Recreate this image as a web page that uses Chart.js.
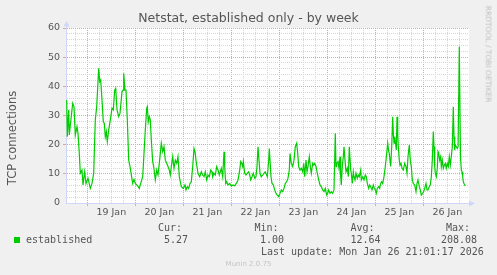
<!DOCTYPE html>
<html>
<head>
<meta charset="utf-8">
<script src="https://cdn.jsdelivr.net/npm/chart.js@4.4.1/dist/chart.umd.min.js"></script>
<style>
  html, body { margin: 0; padding: 0; background: #f0f0f0; }
  #wrap { position: relative; width: 497px; height: 275px; overflow: hidden; font-family: "DejaVu Sans", sans-serif; color: #555; }
  #wrap canvas { position: absolute; left: 0; top: 0; }
  .t { position: absolute; white-space: pre; line-height: 1; }
  .mono { font-family: "DejaVu Sans Mono", monospace; font-size: 10px; }
  .rot { transform: translate(-50%, -50%) rotate(-90deg); }
  .rot90 { transform: translate(-50%, -50%) rotate(90deg); }
</style>
</head>
<body>
<div id="wrap">
  <canvas id="chart" width="497" height="275"></canvas>
  <div class="t" style="left:0;width:497px;text-align:center;top:12px;font-size:12.5px;">Netstat, established only - by week</div>
  <div class="t rot" style="left:13px;top:138px;font-size:11.5px;">TCP connections</div>
  <div class="t rot90" style="left:488px;top:54px;font-size:7.5px;color:#c0c0c0;">RRDTOOL / TOBI OETIKER</div>

  <div style="position:absolute;left:14px;top:237px;width:6px;height:6px;background:#00cc00;"></div>
  <div class="t mono" style="left:26px;top:234.5px;">established</div>
  <div class="t mono" style="left:158px;top:223px;">Cur:</div>
  <div class="t mono" style="left:164px;top:234.5px;">5.27</div>
  <div class="t mono" style="left:254.5px;top:223px;">Min:</div>
  <div class="t mono" style="left:260px;top:234.5px;">1.00</div>
  <div class="t mono" style="left:350.5px;top:223px;">Avg:</div>
  <div class="t mono" style="left:350.5px;top:234.5px;">12.64</div>
  <div class="t mono" style="left:446px;top:223px;">Max:</div>
  <div class="t mono" style="left:441px;top:234.5px;">208.08</div>
  <div class="t mono" style="left:261px;top:247px;">Last update: Mon Jan 26 21:01:17 2026</div>
  <div class="t" style="left:0;width:497px;text-align:center;top:260.5px;font-size:7px;color:#c4c4c4;">Munin 2.0.75</div>
</div>
<script>
// x labels, one per day (drawn at noon)
const dayLabels = ['19 Jan', '20 Jan', '21 Jan', '22 Jan', '23 Jan', '24 Jan', '25 Jan', '26 Jan'];
const yLabels = [0, 10, 20, 30, 40, 50, 60];

// hours since Mon 19 Jan 00:00
const hours = [
  -10.3, -10, -9.3, -9, -7.3, -6.65, -6, -5.15, -4.65, -4, -3.5, -2.65, -2.15, -1.3, -0.65,
  0.35, 1.5, 2.35, 3.2, 4, 4.7, 5.7, 6.2, 6.7, 7.35, 8, 8.5, 9, 9.5, 10, 10.7, 11.5, 12.35,
  13, 13.7, 14.2, 14.85, 15.7, 16.35, 17.35, 17.85, 18.2, 18.85, 19.35, 20, 20.7,
  21.35, 22.7, 23.35, 24, 24.7, 25.5, 26, 26.7, 27.7, 28.35, 29, 29.7, 30, 30.5, 31, 31.5,
  32, 32.7, 33.2, 34, 34.7, 35.35, 36.35, 37, 37.7, 38.35, 39, 39.7, 40.35, 41, 41.5, 42,
  42.7, 43.35, 44, 44.7, 45.35, 46, 47, 48, 48.85, 49.35, 50, 50.7, 51.35, 52, 52.7, 53.35,
  53.85, 54.35,
  55.35, 56.2, 57, 57.7, 58.35, 59, 59.7, 60.35, 61, 61.7, 62.35, 62.7, 63.35, 64, 64.7,
  65.35, 66, 66.5, 67, 67.7, 68.35, 68.7, 69.2, 69.7, 70.35, 71.2, 72, 72.85, 73.7, 74.5,
  75.35, 76.2, 76.7, 77.2, 77.7, 78, 78.7, 79.35, 80, 80.7, 81.2, 81.7, 82.35, 83, 83.7,
  84.35, 84.85, 85.35, 85.85, 86.35, 87, 87.7, 88.35, 89,
  90, 90.7, 91, 91.35, 91.85, 92.35, 93, 93.7, 94.35, 95, 95.7, 96.35, 97, 97.7, 98.35, 99,
  99.7, 100.35, 101, 101.35, 102, 102.7, 103.35, 104, 104.7, 105.2, 105.7, 106.35, 107,
  107.7, 108.2, 108.7, 109.35, 109.85, 110.35, 111, 111.5, 112, 112.7, 113.2, 113.7, 114.35,
  115, 115.7, 116.35, 117, 117.7, 118.35, 119, 119.7, 120.2, 120.7, 121.35, 122, 122.7,
  123.35, 124, 124.35, 124.7, 125.35, 125.85, 126.35, 126.7, 127, 127.5, 128, 128.35, 128.85,
  129.35, 130, 130.5, 131, 131.7, 132, 132.5, 133, 133.35, 133.85, 134.35, 135, 135.5, 136,
  136.7, 137, 137.7, 138.35, 139, 139.5, 140, 140.7, 141.2, 141.7, 142.35, 143, 143.5, 144,
  144.5, 145, 145.7, 146.2, 146.7, 147.2, 147.7, 148.35, 149, 149.7, 150.2, 150.7, 151,
  151.35, 151.7, 152.2, 152.7, 153, 153.35, 153.7, 154, 154.5, 154.85, 155.2, 155.5, 156,
  156.35, 156.85,
  157.35, 158, 158.7, 159.35, 159.85, 160.35, 161, 161.5, 162, 162.5, 163, 163.7, 164.35,
  164.85, 165.35, 166, 166.5, 167, 167.7, 168.2, 168.7, 169.35, 169.85, 170.35, 171, 171.5,
  172, 172.5, 173, 173.35, 173.7, 174, 174.5, 175, 175.35, 175.7, 176.2, 176.7, 177, 177.5,
  178, 178.5, 179, 179.5, 180, 180.5, 181, 181.5, 182, 182.5, 183, 183.35, 183.7, 184, 184.5,
  185, 185.4, 186, 186.6, 187, 187.35, 187.7, 188, 188.35, 188.7, 189
];

const established = [
  35.3, 22.7, 31.9, 23.3, 34.2, 33.0, 23.3, 26.2, 23.9, 17.0, 10.2, 11.3, 6.2, 10.7, 6.7,
  8.5, 5.0, 6.7, 10.2, 28.5, 33.0, 46.2, 41.6, 42.2, 35.3, 27.9, 27.3, 22.7, 24.5, 21.0, 25.0, 28.5, 32.5,
  31.9, 38.7, 39.3, 31.9, 29.6, 30.7, 38.2, 38.7, 44.5, 38.7, 38.7, 28.5, 14.7,
  12.5, 6.7, 8.1, 6.7, 6.2, 5.6, 5.0, 6.7, 9.0, 17.0, 25.0, 32.5, 33.0, 27.9, 29.6, 28.5,
  21.6, 14.2, 12.5, 7.9, 11.3, 9.6, 15.9, 20.5, 17.6, 19.3, 14.7, 13.6, 12.5, 11.3, 9.6, 12.5,
  15.9, 11.9, 14.7, 13.6, 15.9, 9.0, 5.6, 5.0, 6.2, 4.5, 5.6, 5.0, 6.7, 7.3, 12.5, 18.7,
  17.6, 14.7,
  10.2, 9.0, 10.7, 9.6, 9.0, 10.7, 7.9, 9.6, 9.0, 11.3, 10.7, 9.0, 10.2, 9.6, 12.5,
  11.3, 9.6, 10.7, 11.9, 9.0, 17.6, 12.5, 6.7, 7.3, 6.2, 6.7, 5.8, 6.2, 5.9, 6.7,
  7.9, 11.3, 14.2, 13.6, 12.5, 14.2, 10.2, 9.6, 10.2, 10.7, 9.6, 7.9, 9.0, 10.2, 8.5,
  9.0, 12.5, 19.3, 14.7, 10.2, 9.0, 9.6, 10.2, 10.7,
  9.0, 14.7, 18.7, 14.7, 9.0, 6.7, 6.2, 4.5, 3.3, 2.7, 2.2, 3.3, 4.5, 3.9, 5.0, 6.7,
  7.3, 8.5, 11.3, 17.0, 13.6, 12.5, 14.7, 19.3, 20.5, 17.0, 12.5, 11.3, 11.9,
  10.7, 13.6, 9.0, 14.7, 10.7, 12.5, 15.9, 12.5, 10.2, 13.6, 13.0, 13.6, 12.5,
  10.2, 7.9, 6.2, 5.6, 4.5, 3.9, 5.0, 2.7, 3.3, 4.5, 3.3, 3.9, 3.3,
  4.5, 23.9, 12.5, 13.6, 14.2, 11.9, 15.9, 9.0, 6.2, 12.5, 15.9, 19.3, 14.7,
  10.7, 11.9, 9.0, 19.3, 11.3, 10.2, 6.7, 10.7, 9.0, 7.9, 10.2, 8.5, 9.6, 9.0,
  11.3, 7.9, 9.0, 7.9, 9.6, 9.0, 6.7, 5.0, 6.2, 5.6, 4.5, 6.2, 5.0, 4.5,
  3.3, 5.0, 5.6, 5.0, 6.7, 7.3, 6.7, 9.0, 12.5, 17.0, 20.5, 17.6, 17.0,
  14.7, 12.5, 19.3, 29.6, 23.9, 20.5, 22.7, 21.0, 18.2, 29.6, 23.9, 19.3, 14.7,
  13.0, 13.6,
  11.9, 11.3, 13.6, 12.5, 10.2, 15.9, 19.9, 14.7, 12.5, 7.9, 6.7, 6.2, 3.9,
  6.7, 7.9, 5.6, 4.5, 2.7, 3.3, 3.9, 5.0, 6.7, 4.5, 4.5, 5.6, 6.2,
  9.0, 14.7, 24.5, 19.3, 12.5, 10.2, 9.0, 11.9, 17.6, 17.0, 14.7, 15.9, 12.5, 14.7,
  11.9, 13.0, 13.6, 11.9, 13.6, 12.5, 15.9, 13.0, 15.9, 19.3, 33.0, 22.7, 18.2, 19.9, 19.3,
  18.7, 19.3, 53.6, 15.9, 11.3, 10.7, 9.0, 7.3, 6.7, 6.7, 5.8
];

const GREEN = '#00cc00';
const MGRID = '#e6a3a3';
const GRID = '#d6d6d6';
const AXIS = '#cfd6f8';
const FONT = '#555555';
const NONE = 'rgba(0,0,0,0)';

const canvasBg = {
  id: 'canvasBg',
  beforeDraw(chart) {
    const { ctx, chartArea: a } = chart;
    ctx.save();
    ctx.fillStyle = '#ffffff';
    ctx.fillRect(a.left, a.top, a.right - a.left, a.bottom - a.top);
    ctx.restore();
  }
};

// the little arrows at the end of each axis
const axisArrows = {
  id: 'axisArrows',
  afterDraw(chart) {
    const { ctx, chartArea: a } = chart;
    const x0 = Math.round(a.left) + 0.5;
    const y0 = Math.round(a.bottom) + 0.5;
    ctx.save();
    ctx.strokeStyle = AXIS;
    ctx.fillStyle = AXIS;
    ctx.lineWidth = 1;
    ctx.beginPath();
    ctx.moveTo(x0, a.top); ctx.lineTo(x0, a.top - 3);
    ctx.moveTo(a.right - 1, y0); ctx.lineTo(a.right + 2, y0);
    ctx.stroke();
    ctx.beginPath();
    ctx.moveTo(x0 - 3, a.top - 1.5); ctx.lineTo(x0 + 3, a.top - 1.5); ctx.lineTo(x0, a.top - 7);
    ctx.closePath(); ctx.fill();
    ctx.beginPath();
    ctx.moveTo(a.right, y0 - 3); ctx.lineTo(a.right, y0 + 3); ctx.lineTo(a.right + 6, y0);
    ctx.closePath(); ctx.fill();
    ctx.restore();
  }
};

const tickFont = { family: 'DejaVu Sans', size: 9.5 };

new Chart(document.getElementById('chart'), {
  type: 'line',
  data: {
    datasets: [{
      label: 'established',
      data: hours.map((h, i) => ({ x: h, y: established[i] })),
      borderColor: GREEN,
      borderWidth: 1.2,
      pointRadius: 0,
      tension: 0,
      fill: false
    }]
  },
  options: {
    responsive: false,
    animation: false,
    devicePixelRatio: 1,
    layout: { padding: { left: 0, top: 28, right: 28, bottom: 0 } },
    plugins: { legend: { display: false }, title: { display: false }, tooltip: { enabled: false } },
    scales: {
      x: {
        type: 'linear',
        min: -10.65,
        max: 190.85,
        afterBuildTicks(scale) {
          const t = [];
          for (let v = -6; v <= 186; v += 6) t.push({ value: v });
          scale.ticks = t;
        },
        afterFit(scale) { scale.height = 72; },
        grid: {
          color: c => (c.tick && c.tick.value % 24 === 0 ? MGRID : GRID),
          tickLength: 3,
          tickColor: c => (c.tick && c.tick.value % 24 === 0 ? MGRID : NONE)
        },
        border: { color: AXIS, dash: [1, 1] },
        ticks: {
          autoSkip: false,
          maxRotation: 0,
          padding: 1,
          color: FONT,
          font: tickFont,
          callback: v => (v % 24 === 12 ? dayLabels[(v - 12) / 24] : '')
        }
      },
      y: {
        min: 0,
        max: 60,
        afterFit(scale) { scale.width = 66; },
        grid: {
          color: c => (c.tick.value === 0 ? NONE : c.tick.value % 10 === 0 ? MGRID : GRID),
          tickLength: 3,
          tickColor: c => (c.tick.value % 10 === 0 && c.tick.value !== 0 ? MGRID : NONE)
        },
        border: { color: AXIS, dash: [1, 1] },
        ticks: {
          stepSize: 2,
          autoSkip: false,
          padding: 3,
          color: FONT,
          font: tickFont,
          callback: v => (yLabels.includes(v) ? String(v) : '')
        }
      }
    }
  },
  plugins: [canvasBg, axisArrows]
});
</script>
</body>
</html>
